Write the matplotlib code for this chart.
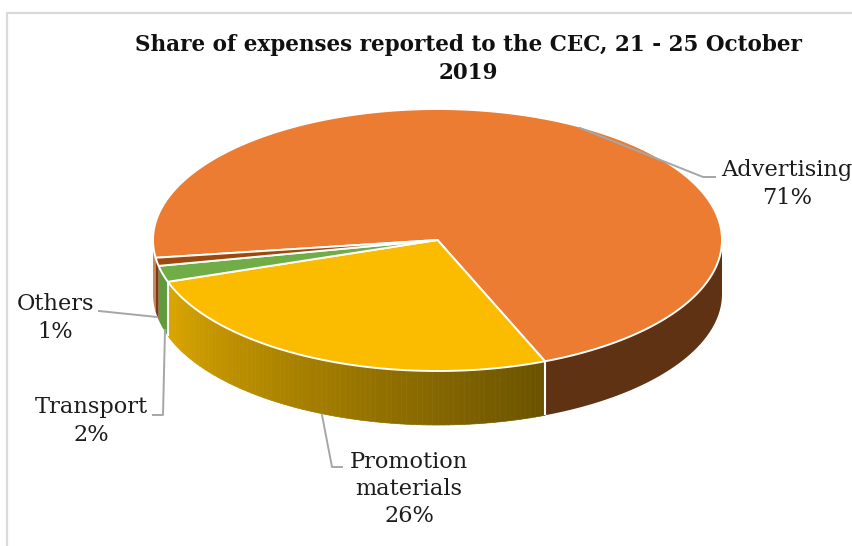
import numpy as np
import matplotlib
matplotlib.use("Agg")
import matplotlib.pyplot as plt
from matplotlib.collections import PolyCollection
from matplotlib.colors import to_rgb
from matplotlib.patches import Polygon

# expense shares, clockwise from the left edge of the pie
categories = ["Advertising", "Promotion\nmaterials", "Transport", "Others"]
shares = [71, 26, 2, 1]

title = "Share of expenses reported to the CEC, 21 - 25 October\n2019"

top_colors = ["#EB7C32", "#FBBC00", "#70AD47", "#9E480E"]
side_colors = ["#5F3213", None, "#5F9A3D", "#7A3A10"]

# pie geometry in pixels
CX, CY = 437.5, 240
RX, RY = 284.5, 131
DEPTH = 54
START = 262.2

plt.rcParams["font.family"] = ["DejaVu Serif"]
TEXT_COLOR = "#1c1c1c"
LEADER = "#A6A6A6"


def rim(theta):
    t = np.radians(theta)
    return CX + RX * np.sin(t), CY - RY * np.cos(t)


def side_poly(a, b):
    th = np.linspace(a, b, max(int(abs(b - a)) * 2, 2))
    x, y = rim(th)
    return np.r_[np.c_[x, y], np.c_[x, y + DEPTH][::-1]]


def lerp(c1, c2, f):
    c1, c2 = np.array(to_rgb(c1)), np.array(to_rgb(c2))
    return tuple(c1 + (c2 - c1) * f)


fig = plt.figure(figsize=(8.52, 5.46), dpi=100)
ax = fig.add_axes([0, 0, 1, 1])
ax.set_xlim(0, 852)
ax.set_ylim(546, 0)
ax.axis("off")

# chart frame, only the top and left edges show
ax.plot([7, 7, 852], [546, 13, 13], color="#D9D9D9", lw=1.6)

angles = START + np.cumsum([0] + shares) * 3.6

# sides first: only the front half of the rim is visible
for i in range(len(shares)):
    a0, a1 = angles[i], angles[i + 1]
    if i == 0:
        # wraps past the back of the pie, so two front pieces
        ax.add_patch(Polygon(side_poly(a0, 270), color="#C98660", lw=0))
        ax.add_patch(Polygon(side_poly(450, a1), color=side_colors[0], lw=0))
    elif side_colors[i] is None:
        # shaded wall: dark on the right, bright to the left
        edges = np.linspace(a0, a1, 90)
        polys = [side_poly(edges[j], edges[j + 1]) for j in range(len(edges) - 1)]
        f = np.linspace(0, 1, len(polys))
        cols = [lerp("#6A5300", "#DBA600", v) for v in f]
        ax.add_collection(PolyCollection(polys, facecolors=cols, edgecolors=cols, linewidths=0.5))
    else:
        ax.add_patch(Polygon(side_poly(a0, a1), color=side_colors[i], lw=0))

# white seams between the side pieces
for a in angles[1:3]:
    x, y = rim(a)
    ax.plot([x, x], [y, y + DEPTH], color="white", lw=1.5, solid_capstyle="butt")

# top face
for i in range(len(shares)):
    th = np.linspace(angles[i], angles[i + 1], 300)
    x, y = rim(th)
    pts = np.r_[[[CX, CY]], np.c_[x, y]]
    ax.add_patch(Polygon(pts, closed=True, facecolor=top_colors[i], edgecolor="white", lw=1.4, joinstyle="round"))

# leader lines
ax.plot([580, 703, 715], [128, 177, 177], color=LEADER, lw=1.4)
ax.plot([99, 157], [311, 317], color=LEADER, lw=1.4)
ax.plot([165, 163, 153], [330, 415, 415], color=LEADER, lw=1.4)
ax.plot([322, 332, 342], [415, 467, 467], color=LEADER, lw=1.4)

# data labels
label_pos = [(787, 184), (409, 489), (91, 421), (55, 318)]
for name, val, (lx, ly) in zip(categories, shares, label_pos):
    ax.text(lx, ly, f"{name}\n{val}%", ha="center", va="center", fontsize=16.2,
            color=TEXT_COLOR, linespacing=1.3, clip_on=True)

ax.text(468, 59, title, ha="center", va="center", fontsize=15.5, fontweight="bold",
        color="#111111", linespacing=1.3)

fig.savefig("out.png", dpi=100)
